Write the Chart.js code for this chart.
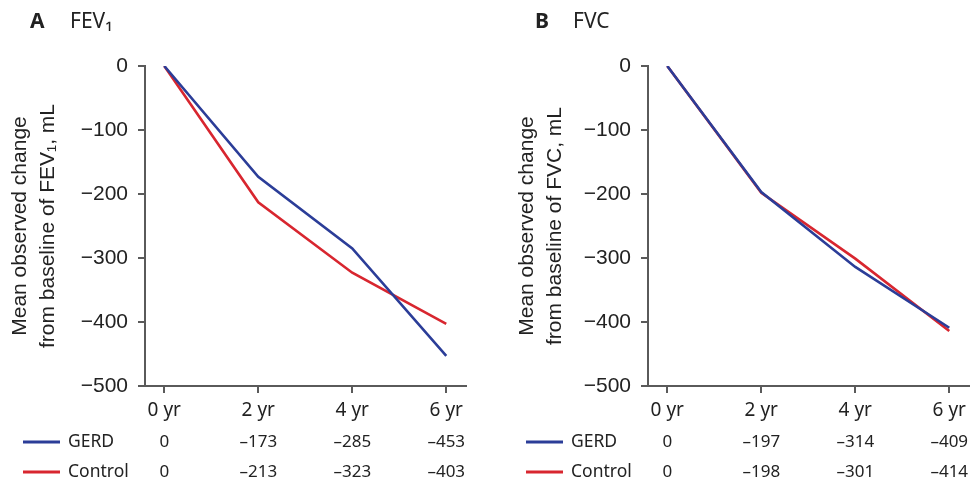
<!DOCTYPE html>
<html>
<head>
<meta charset="utf-8">
<script src="https://cdn.jsdelivr.net/npm/chart.js@4/dist/chart.umd.min.js"></script>
<style>
  html, body { margin: 0; padding: 0; background: #fff; }
  #wrap { position: relative; width: 980px; height: 482px; }
  .panel { position: absolute; top: 0; width: 490px; height: 482px; }
</style>
</head>
<body>
<div id="wrap">
  <div class="panel" style="left:0"><canvas id="cA" width="490" height="482"></canvas></div>
  <div class="panel" style="left:490px"><canvas id="cB" width="490" height="482"></canvas></div>
</div>
<script>
// ---- data ----
const years = [0, 2, 4, 6];
const yearLabels = ['0 yr', '2 yr', '4 yr', '6 yr'];
const seriesNames = ['GERD', 'Control'];
const fev1Gerd = [0, -173, -285, -453];
const fev1Control = [0, -213, -323, -403];
const fvcGerd = [0, -197, -314, -409];
const fvcControl = [0, -198, -301, -414];
const yTickValues = [0, -100, -200, -300, -400, -500];

const BLUE = '#2b3d98';
const RED = '#d8262f';
const AXIS = '#5a5a5a';
const TEXT = '#222222';

function fmtTable(v) { return v === 0 ? '0' : '\u2013' + Math.abs(v); }

function makeChart(canvasId, cfg) {
  const tablePlugin = {
    id: 'tbl' + canvasId,
    afterDraw(chart) {
      const ctx = chart.ctx;
      const xs = chart.scales.x;
      ctx.save();
      // panel title
      ctx.fillStyle = TEXT;
      ctx.textBaseline = 'middle';
      ctx.textAlign = 'left';
      ctx.font = 'bold 21px "Noto Sans"';
      ctx.fillText(cfg.letter, cfg.letterX, 22);
      ctx.font = '21px "Noto Sans"';
      ctx.fillText(cfg.title, cfg.titleX, 22);
      // table rows
      const rows = [cfg.gerd, cfg.control];
      const colors = [BLUE, RED];
      const rowY = [442, 472];
      rows.forEach((vals, r) => {
        ctx.strokeStyle = colors[r];
        ctx.lineWidth = 3;
        ctx.beginPath();
        ctx.moveTo(cfg.legX, rowY[r]);
        ctx.lineTo(cfg.legX + 37, rowY[r]);
        ctx.stroke();
        ctx.fillStyle = TEXT;
        ctx.font = '17.5px "Noto Sans"';
        ctx.textAlign = 'left';
        ctx.fillText(seriesNames[r], cfg.legX + 45, rowY[r]);
        ctx.font = '17px "Noto Sans"';
        ctx.textAlign = 'center';
        vals.forEach((v, i) => {
          ctx.fillText(fmtTable(v), xs.getPixelForValue(years[i]), rowY[r]);
        });
      });
      ctx.restore();
    }
  };

  return new Chart(document.getElementById(canvasId), {
    type: 'line',
    data: {
      datasets: [
        { label: seriesNames[0], data: years.map((x, i) => ({ x, y: cfg.gerd[i] })),
          borderColor: BLUE, borderWidth: 2.6, pointRadius: 0, tension: 0 },
        { label: seriesNames[1], data: years.map((x, i) => ({ x, y: cfg.control[i] })),
          borderColor: RED, borderWidth: 2.6, pointRadius: 0, tension: 0 }
      ]
    },
    options: {
      responsive: false,
      animation: false,
      devicePixelRatio: 1,
      layout: { padding: { left: 0, right: cfg.padRight, top: 66, bottom: 0 } },
      plugins: { legend: { display: false }, tooltip: { enabled: false } },
      scales: {
        x: {
          type: 'linear',
          min: -0.41, max: 6.42,
          afterBuildTicks(s) { s.ticks = years.map(v => ({ value: v })); },
          afterFit(s) { s.height = 96; },
          border: { display: true, color: AXIS, width: 2 },
          grid: { drawOnChartArea: false, drawTicks: true, tickLength: 7, color: AXIS, lineWidth: 2 },
          ticks: {
            color: TEXT, padding: 6, maxRotation: 0, autoSkip: false,
            font: { family: '"Noto Sans"', size: 19 },
            callback(v) { const i = years.indexOf(v); return i >= 0 ? yearLabels[i] : ''; }
          }
        },
        y: {
          min: -500, max: 0,
          afterBuildTicks(s) { s.ticks = yTickValues.map(v => ({ value: v })); },
          afterFit(s) { s.width = cfg.yWidth; },
          border: { display: true, color: AXIS, width: 2 },
          grid: { drawOnChartArea: false, drawTicks: true, tickLength: 7, color: AXIS, lineWidth: 2 },
          ticks: {
            color: TEXT, padding: 10,
            font: { family: '"Liberation Sans", Arial', size: 21 },
            callback(v) { return v < 0 ? '\u2212' + Math.abs(v) : String(v); }
          },
          title: {
            display: true,
            text: ['Mean observed change', cfg.yTitle2],
            color: TEXT,
            font: { family: '"Liberation Sans", Arial', size: 21, lineHeight: 1.3 },
            padding: { top: cfg.titlePad, bottom: 0 }
          }
        }
      }
    },
    plugins: [tablePlugin]
  });
}

makeChart('cA', {
  letter: 'A', letterX: 30, title: 'FEV\u2081', titleX: 70,
  gerd: fev1Gerd, control: fev1Control,
  yTitle2: 'from baseline of FEV\u2081, mL',
  yWidth: 145, padRight: 24, titlePad: 7, legX: 23
});
makeChart('cB', {
  letter: 'B', letterX: 45, title: 'FVC', titleX: 83,
  gerd: fvcGerd, control: fvcControl,
  yTitle2: 'from baseline of FVC, mL',
  yWidth: 158, padRight: 11, titlePad: 24, legX: 36
});
</script>
</body>
</html>
